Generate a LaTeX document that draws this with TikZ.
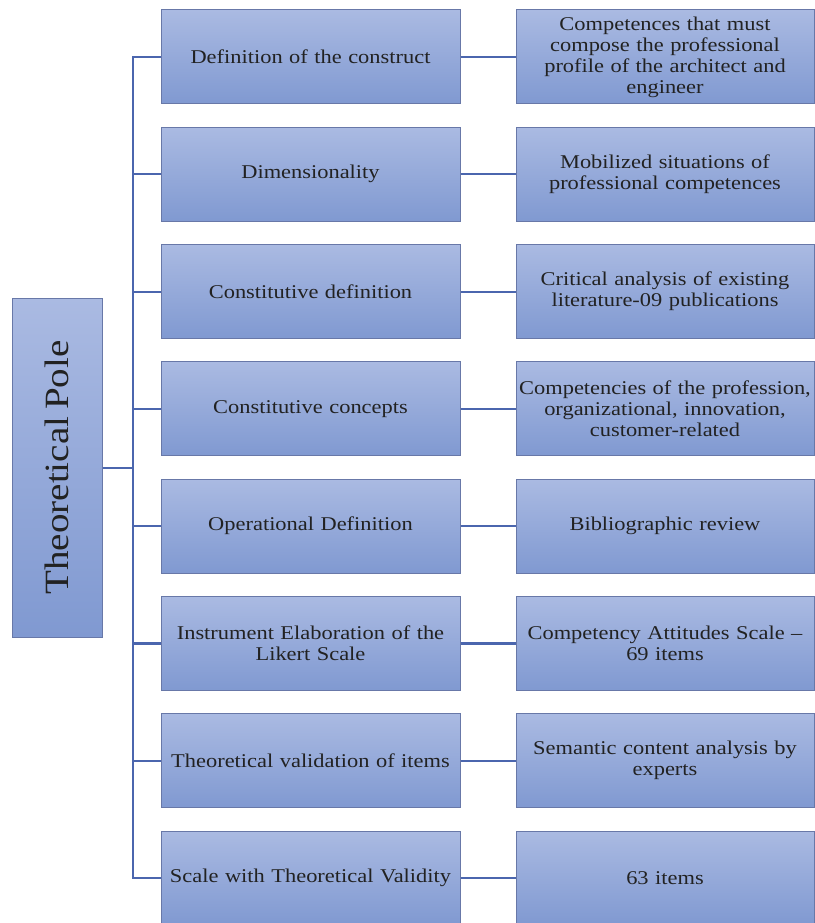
\documentclass[tikz,border=0pt]{standalone}
\usepackage{fontspec}
\setmainfont{Liberation Serif}[FakeStretch=1.15,WordSpace=0.7]
\usepackage{tikz}

\definecolor{boxtop}{HTML}{AABAE2}
\definecolor{boxbot}{HTML}{8099D1}
\definecolor{boxline}{HTML}{6878A8}
\definecolor{linkblue}{HTML}{4B66AE}
\definecolor{ink}{HTML}{222222}

\begin{document}
\begin{tikzpicture}[
node distance=117.3pt,
box/.style={rectangle,draw=boxline,line width=1pt,top color=boxtop,bottom color=boxbot,
  align=center,text=ink,font=\fontsize{19.5}{21}\selectfont,inner sep=1pt},
midbox/.style={box,minimum width=299pt,minimum height=94pt,text width=297pt},
resbox/.style={box,minimum width=294pt,minimum height=94pt,text width=296pt},
link/.style={draw=linkblue,line width=2.2pt}
]
\useasboundingbox (0,0) rectangle (814pt,-923pt);

\node[midbox] (def) at (310.5pt,-57pt) {Definition of the construct};
\node[midbox, below of=def] (dim) {Dimensionality};
\node[midbox, below of=dim] (cdef) {Constitutive definition};
\node[midbox, below of=cdef] (ccon) {Constitutive concepts};
\node[midbox, below of=ccon] (odef) {Operational Definition};
\node[midbox, below of=odef] (inst) {Instrument Elaboration of the\\Likert Scale};
\node[midbox, below of=inst] (tval) {Theoretical validation of items};
\node[midbox, below of=tval] (scal) {Scale with Theoretical Validity};

\node[resbox, right of=def, node distance=354.5pt] (rdef) {Competences that must\\compose the professional\\profile of the architect and\\engineer};
\node[resbox, right of=dim, node distance=354.5pt] (rdim) {Mobilized situations of\\professional competences};
\node[resbox, right of=cdef, node distance=354.5pt] (rcdef) {Critical analysis of existing\\literature-09 publications};
\node[resbox, right of=ccon, node distance=354.5pt] (rccon) {Competencies of the profession,\\organizational, innovation,\\customer-related};
\node[resbox, right of=odef, node distance=354.5pt] (rodef) {Bibliographic review};
\node[resbox, right of=inst, node distance=354.5pt] (rinst) {Competency Attitudes Scale --\\69 items};
\node[resbox, right of=tval, node distance=354.5pt] (rtval) {Semantic content analysis by\\experts};
\node[resbox, right of=scal, node distance=354.5pt] (rscal) {63 items};

\node[box, minimum width=90pt, minimum height=339pt] (pole) at (57pt,-467.5pt)
  {\rotatebox{90}{\fontsize{34}{36}\selectfont Theoretical Pole}};

\coordinate (jn) at (133pt,-468pt);

\draw[link] (pole.east |- jn) -- (jn);
\draw[link] (def.west) -| (jn);
\draw[link] (scal.west) -| (jn);
\foreach \n in {dim,cdef,ccon,odef,inst,tval}
  \draw[link] (jn |- \n.west) -- (\n.west);

\draw[link] (def) -- (rdef);
\draw[link] (dim) -- (rdim);
\draw[link] (cdef) -- (rcdef);
\draw[link] (ccon) -- (rccon);
\draw[link] (odef) -- (rodef);
\draw[link] (inst) -- (rinst);
\draw[link] (tval) -- (rtval);
\draw[link] (scal) -- (rscal);

\end{tikzpicture}
\end{document}
